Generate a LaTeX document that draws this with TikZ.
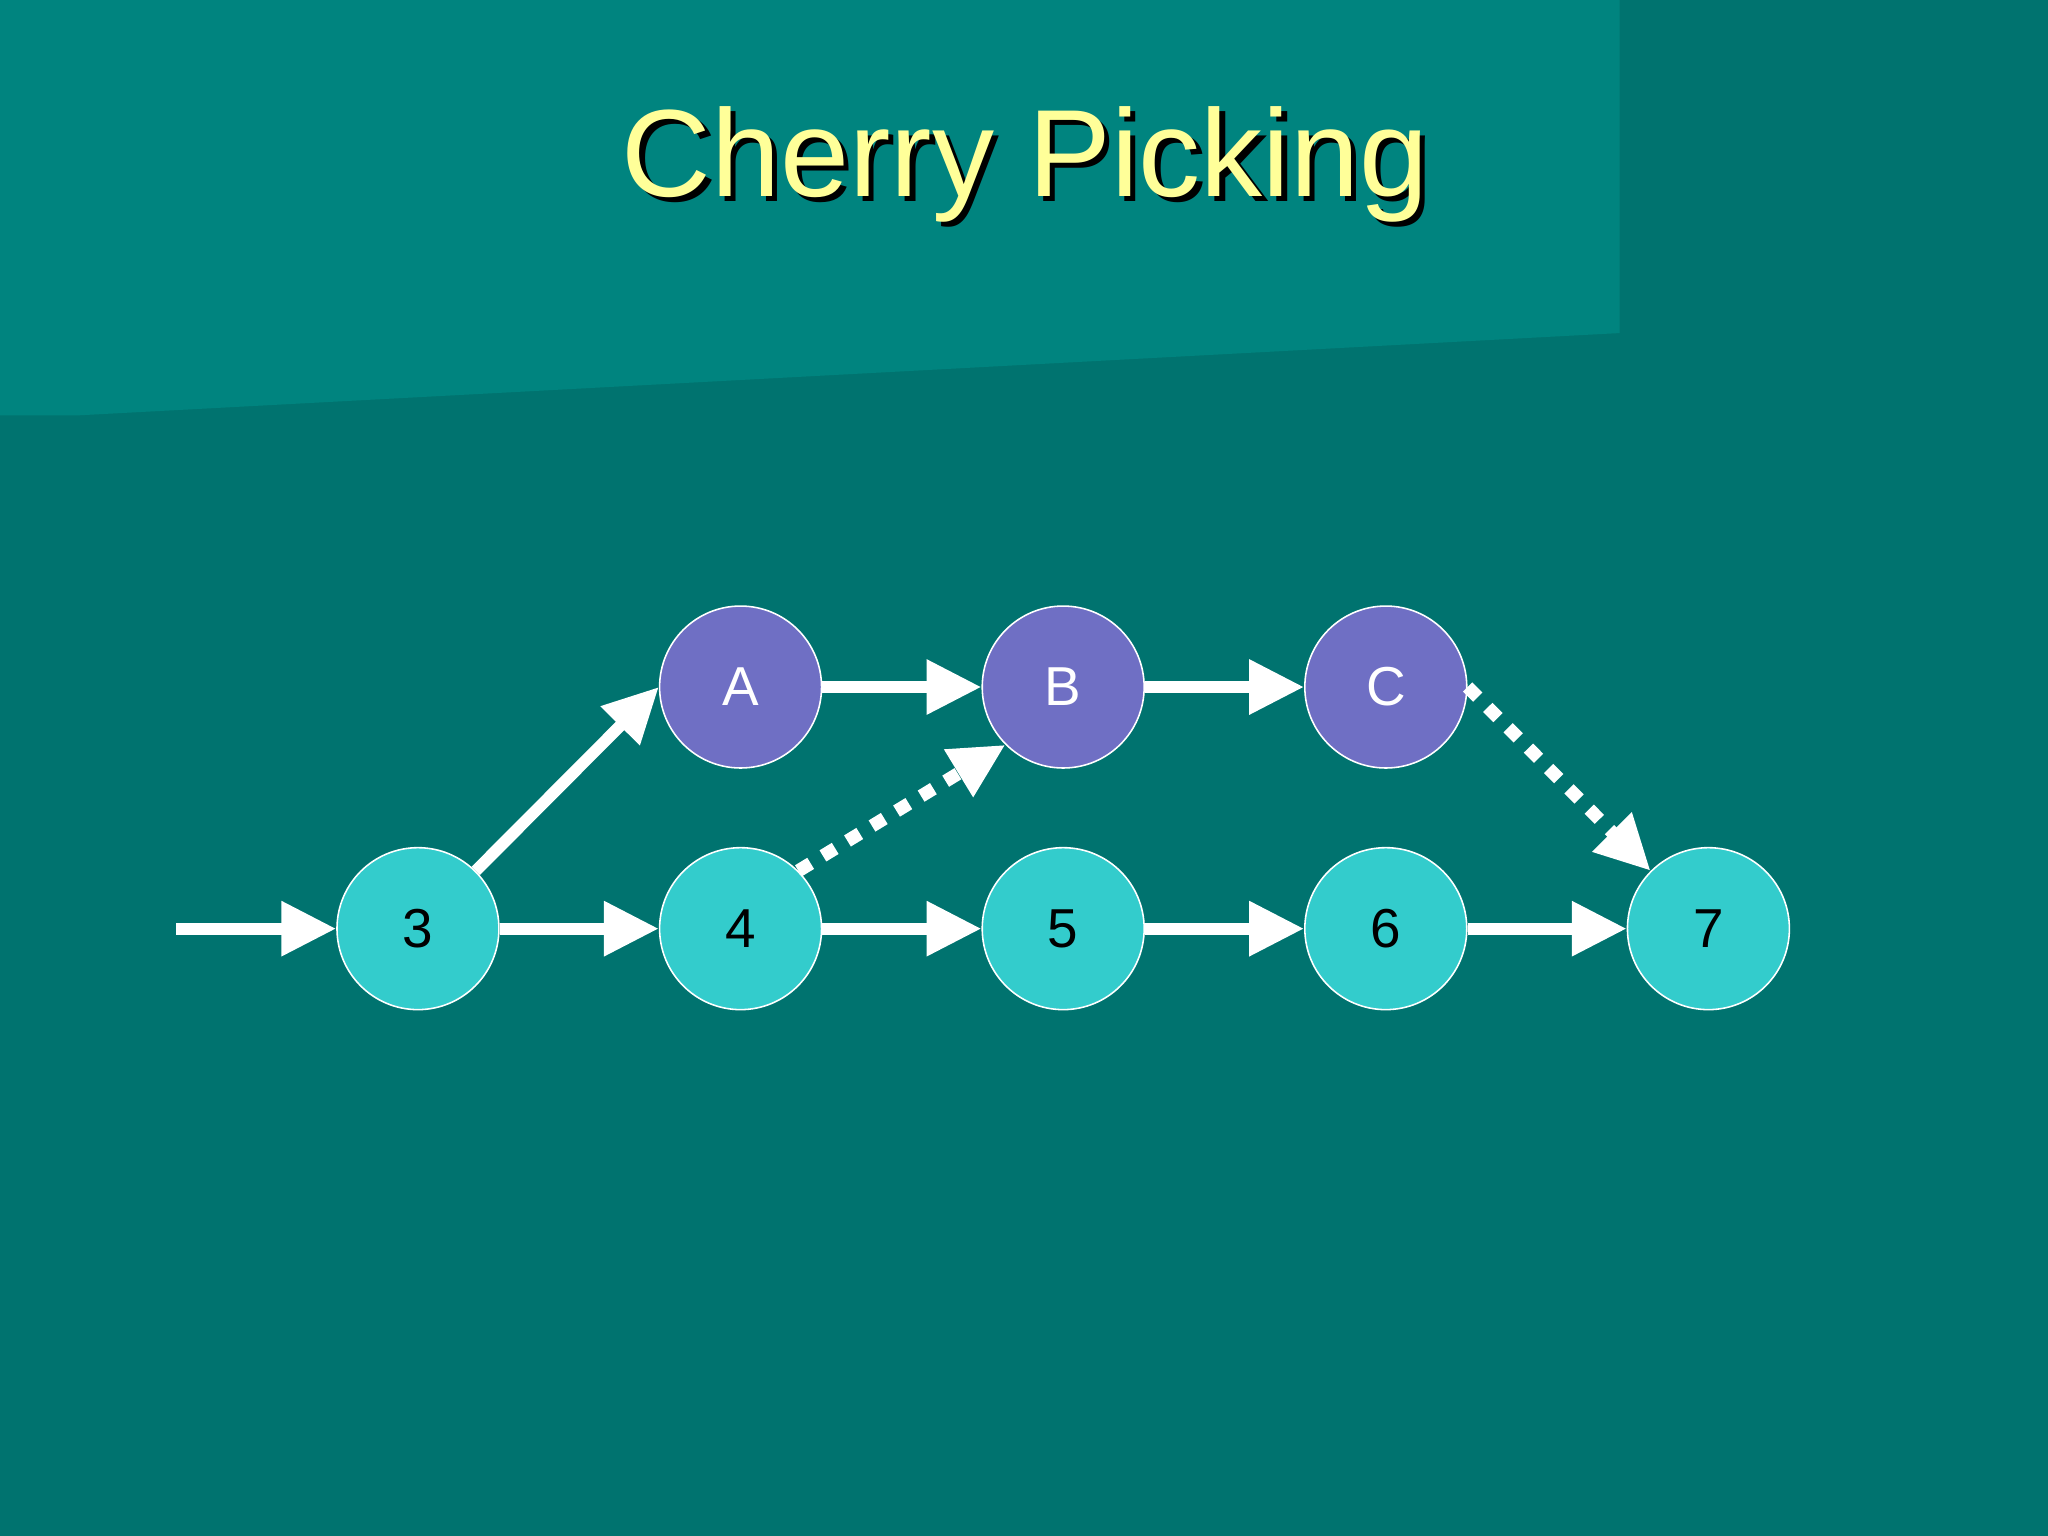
\documentclass[tikz,border=0pt]{standalone}
\usepackage{fontspec}
\setmainfont{Liberation Sans}
\usetikzlibrary{arrows.meta}
\definecolor{bg}{HTML}{00736F}
\definecolor{bgl}{HTML}{00847F}
\definecolor{cy}{HTML}{33CCCC}
\definecolor{pu}{HTML}{6F6FC4}
\definecolor{ttl}{HTML}{FFFF99}
\begin{document}
\begin{tikzpicture}[x=0.5pt,y=-0.5pt,
  cnode/.style={circle,draw=white,line width=0.6pt,minimum size=62pt,inner sep=0pt,font=\fontsize{21}{21}\selectfont},
  cyn/.style={cnode,fill=cy,text=black},
  pun/.style={cnode,fill=pu,text=white},
  arr/.style={draw=white,line width=4.5pt,-{Triangle[length=21pt,width=20pt]}},
  dotarr/.style={arr,line width=5pt,dash pattern=on 5.5pt off 5.5pt}]
\fill[bg] (0,0) rectangle (1568,1176);
\fill[bgl] (0,0) -- (1240,0) -- (1240,255) -- (60,318) -- (0,318) -- cycle;
\useasboundingbox (0,0) rectangle (1568,1176);
\node[text=black,font=\fontsize{47.5}{47.5}\selectfont] at (789,130) {Cherry Picking};
\node[text=ttl,font=\fontsize{47.5}{47.5}\selectfont] (title) at (785,126) {Cherry Picking};
\node[cyn] (n3) at (320,711) {3};
\node[cyn] (n4) at (567,711) {4};
\node[cyn] (n5) at (814,711) {5};
\node[cyn] (n6) at (1061,711) {6};
\node[cyn] (n7) at (1308,711) {7};
\node[pun] (A) at (567,526) {A};
\node[pun] (B) at (814,526) {B};
\node[pun] (C) at (1061,526) {C};
\coordinate (start) at (135,711);
\draw[arr] (start) -- (n3.west);
\draw[arr] (n3) -- (n4);
\draw[arr] (n4) -- (n5);
\draw[arr] (n5) -- (n6);
\draw[arr] (n6) -- (n7);
\draw[arr] (A) -- (B);
\draw[arr] (B) -- (C);
\draw[arr] (n3.45) -- (A.west);
\draw[dotarr] (n4.45) -- (B.225);
\draw[dotarr] (C.east) -- (n7.135);
\end{tikzpicture}
\end{document}
